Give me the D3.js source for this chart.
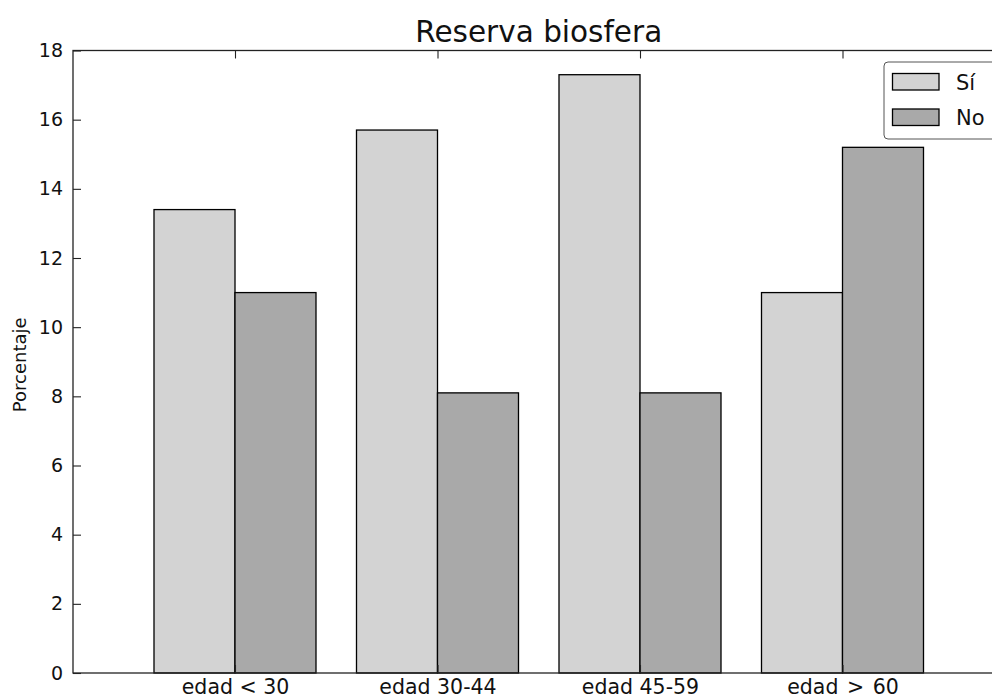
<!DOCTYPE html>
<html>
<head>
<meta charset="utf-8">
<script src="https://cdn.jsdelivr.net/npm/d3@7"></script>
<style>
  html, body { margin: 0; padding: 0; background: #fff; }
  svg { display: block; font-family: "DejaVu Sans", sans-serif; }
</style>
</head>
<body>
<svg id="chart" width="992" height="699"></svg>
<script>
const categories = ["edad < 30", "edad 30-44", "edad 45-59", "edad \u200A>\u200A 60"];
const seriesNames = ["Sí", "No"];
const valuesSi = [13.4, 15.7, 17.3, 11.0];
const valuesNo = [11.0, 8.1, 8.1, 15.2];
const yTicks = [0, 2, 4, 6, 8, 10, 12, 14, 16, 18];
const colors = ["#d3d3d3", "#a9a9a9"];

(function () {
const svg = d3.select("#chart");
const mLeft = 73, mRight = 1004.5, mTop = 50.5, mBottom = 673;
const barW = 0.4;

const x = d3.scaleLinear().domain([-0.4, 4.2]).range([mLeft, mRight]);
const y = d3.scaleLinear().domain([0, 18]).range([mBottom, mTop]);

const series = [valuesSi, valuesNo];
series.forEach((vals, s) => {
  svg.append("g").selectAll("rect").data(vals).join("rect")
    .attr("x", (d, i) => x(i + s * barW))
    .attr("y", d => y(d))
    .attr("width", x(barW) - x(0))
    .attr("height", d => y(0) - y(d))
    .attr("fill", colors[s])
    .attr("stroke", "#000")
    .attr("stroke-width", 1.3);
});

// frame
svg.append("rect")
  .attr("x", mLeft).attr("y", mTop)
  .attr("width", mRight - mLeft).attr("height", mBottom - mTop)
  .attr("fill", "none").attr("stroke", "#222").attr("stroke-width", 1.3);

// y axis (left), ticks inward
const yAxis = d3.axisLeft(y).tickValues(yTicks).tickSize(-8).tickPadding(10).tickFormat(d3.format("d"));
const gy = svg.append("g").attr("transform", `translate(${mLeft},0)`).call(yAxis);
gy.select(".domain").remove();
gy.selectAll("line").attr("stroke", "#222").attr("stroke-width", 1.1);
gy.selectAll("text").attr("font-size", 19).attr("fill", "#111").attr("font-family", "DejaVu Sans");

// right ticks
const gyr = svg.append("g").attr("transform", `translate(${mRight},0)`).call(d3.axisRight(y).tickValues(yTicks).tickSize(-8).tickFormat(""));
gyr.select(".domain").remove();
gyr.selectAll("line").attr("stroke", "#222");

// x axis bottom: ticks at group centers
const centers = categories.map((c, i) => i + barW);
const xAxis = d3.axisBottom(x).tickValues(centers).tickSize(-8).tickPadding(6)
  .tickFormat((d, i) => categories[i]);
const gx = svg.append("g").attr("transform", `translate(0,${mBottom})`).call(xAxis);
gx.select(".domain").remove();
gx.selectAll("line").attr("stroke", "#222").attr("stroke-width", 1.1);
gx.selectAll("text").attr("font-size", 20.5).attr("fill", "#111").attr("font-family", "DejaVu Sans")
  .attr("dy", (d, i) => i === 3 ? "0.74em" : "0.71em")
  .style("white-space", "pre");

// top ticks
const gxt = svg.append("g").attr("transform", `translate(0,${mTop})`).call(d3.axisTop(x).tickValues(centers).tickSize(-8).tickFormat(""));
gxt.select(".domain").remove();
gxt.selectAll("line").attr("stroke", "#222").attr("stroke-width", 1.1);

// title
svg.append("text").attr("x", (mLeft + mRight) / 2).attr("y", 42)
  .attr("text-anchor", "middle").attr("font-size", 29.5).attr("fill", "#111")
  .text("Reserva biosfera");

// y label
svg.append("text").attr("transform", `translate(26,${(mTop + mBottom) / 2 + 3}) rotate(-90)`)
  .attr("text-anchor", "middle").attr("font-size", 18).attr("fill", "#111")
  .text("Porcentaje");

// legend
const lg = svg.append("g");
lg.append("rect").attr("x", 884).attr("y", 62).attr("width", 130).attr("height", 77)
  .attr("rx", 4).attr("fill", "#fff").attr("stroke", "#555").attr("stroke-width", 1);
seriesNames.forEach((n, i) => {
  lg.append("rect").attr("x", 892.5).attr("y", 73.5 + i * 35.5).attr("width", 46.5).attr("height", 16.5)
    .attr("fill", colors[i]).attr("stroke", "#000").attr("stroke-width", 1.3);
  lg.append("text").attr("x", 956).attr("y", 89.5 + i * 35.5)
    .attr("font-size", 21).attr("fill", "#111").text(n);
});
})();
</script>
</body>
</html>
